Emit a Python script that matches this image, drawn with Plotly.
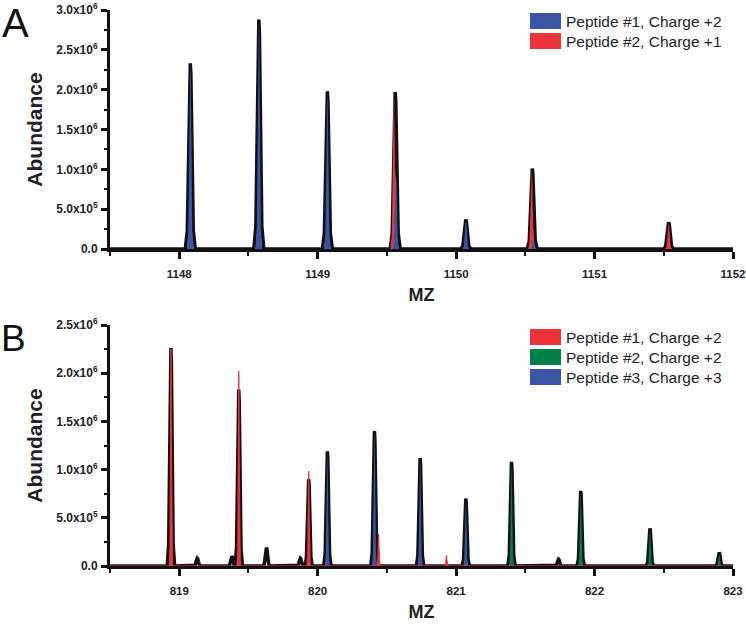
import plotly.graph_objects as go

# ---------------- Panel A data ----------------
A_OBS_MZ = [1148.08, 1148.575, 1149.07, 1149.56, 1150.07, 1150.55, 1151.535]
A_OBS_AB = [2.33e6, 2.88e6, 1.98e6, 1.97e6, 0.37e6, 1.01e6, 0.335e6]
A_P1_MZ = [1148.08, 1148.575, 1149.07, 1149.565, 1150.07, 1150.56]
A_P1_AB = [2.31e6, 2.85e6, 1.95e6, 0.93e6, 0.36e6, 0.12e6]
A_P2_MZ = [1149.55, 1150.545, 1151.535]
A_P2_AB = [1.95e6, 0.99e6, 0.33e6]
A_LEGEND = ["Peptide #1, Charge +2", "Peptide #2, Charge +1"]
A_X_RANGE = [1147.5, 1152]
A_Y_TICKS = [0, 5e5, 1e6, 1.5e6, 2e6, 2.5e6, 3e6]
A_Y_LABELS = ["0.0", "5.0x10<sup>5</sup>", "1.0x10<sup>6</sup>", "1.5x10<sup>6</sup>",
              "2.0x10<sup>6</sup>", "2.5x10<sup>6</sup>", "3.0x10<sup>6</sup>"]

# ---------------- Panel B data ----------------
B_OBS_MZ = [818.94, 819.13, 819.38, 819.43, 819.63, 819.875, 819.935, 820.07, 820.41,
            820.74, 821.07, 821.40, 821.74, 821.90, 822.40, 822.90]
B_OBS_AB = [2.26e6, 0.08e6, 0.10e6, 1.83e6, 0.19e6, 0.08e6, 0.90e6, 1.19e6, 1.40e6,
            1.12e6, 0.70e6, 1.08e6, 0.07e6, 0.78e6, 0.39e6, 0.14e6]
B_P1_MZ = [818.94, 819.43, 819.935, 820.44, 820.93]
B_P1_AB = [2.25e6, 2.02e6, 0.985e6, 0.33e6, 0.11e6]
B_P2_MZ = [821.40, 821.90, 822.40, 822.90]
B_P2_AB = [1.06e6, 0.76e6, 0.37e6, 0.12e6]
B_P3_MZ = [820.07, 820.41, 820.74, 821.07, 821.40]
B_P3_AB = [1.16e6, 1.38e6, 1.10e6, 0.66e6, 0.15e6]
B_LEGEND = ["Peptide #1, Charge +2", "Peptide #2, Charge +2", "Peptide #3, Charge +3"]
B_X_RANGE = [818.5, 823]
B_Y_TICKS = [0, 5e5, 1e6, 1.5e6, 2e6, 2.5e6]
B_Y_LABELS = ["0.0", "5.0x10<sup>5</sup>", "1.0x10<sup>6</sup>", "1.5x10<sup>6</sup>",
              "2.0x10<sup>6</sup>", "2.5x10<sup>6</sup>"]

# ---------------- styles ----------------
BLUE = "#3a55a6"
RED = "#ee3338"
GREEN = "#007f48"
FONT = "Liberation Sans, Arial, sans-serif"
W, H = 746, 626


def px(x):
    return x / W


def py(y):
    return 1 - y / H


# normalised peak outline (offset in half-widths, relative height)
PROFILE_OFF = [-1, -0.6, -0.3, -0.12, 0, 0.12, 0.3, 0.6, 1]
PROFILE_REL = [0, 0.1, 0.6, 0.94, 1, 0.94, 0.6, 0.1, 0]


def peak_path(mz, ab, hw, xr):
    xs, ys = [xr[0]], [0]
    for c, a in sorted(zip(mz, ab)):
        for o, r in zip(PROFILE_OFF, PROFILE_REL):
            xs.append(c + o * hw)
            ys.append(a * r)
    xs.append(xr[1])
    ys.append(0)
    return xs, ys


fig = go.Figure()


def add_obs(mz, ab, hw, xr, xa, ya):
    xs, ys = peak_path(mz, ab, hw, xr)
    fig.add_trace(go.Scatter(x=xs, y=ys, mode="lines", xaxis=xa, yaxis=ya,
                             line=dict(color="#111111", width=3.5), showlegend=False,
                             hoverinfo="skip"))


def add_fill(mz, ab, hw, xr, xa, ya, color, lw=0):
    xs, ys = peak_path(mz, ab, hw, xr)
    fig.add_trace(go.Scatter(x=xs, y=ys, mode="lines", xaxis=xa, yaxis=ya,
                             fill="tozeroy", fillcolor=color,
                             line=dict(color=color, width=lw), showlegend=False,
                             hoverinfo="skip"))


# Panel A
add_obs(A_OBS_MZ, A_OBS_AB, 0.036, A_X_RANGE, "x", "y")
add_fill(A_P2_MZ, A_P2_AB, 0.024, A_X_RANGE, "x", "y", RED)
add_fill(A_P1_MZ, A_P1_AB, 0.024, A_X_RANGE, "x", "y", BLUE)

# Panel B
add_obs(B_OBS_MZ, B_OBS_AB, 0.027, B_X_RANGE, "x2", "y2")
add_fill(B_P3_MZ, B_P3_AB, 0.018, B_X_RANGE, "x2", "y2", BLUE)
add_fill(B_P2_MZ, B_P2_AB, 0.018, B_X_RANGE, "x2", "y2", GREEN)
add_fill(B_P1_MZ, B_P1_AB, 0.011, B_X_RANGE, "x2", "y2", RED, lw=1)

xdom = [px(110), px(733)]
ydomA = [py(249), py(10)]
ydomB = [py(566), py(325)]

tickfont = dict(family=FONT, size=12, color="#222222", weight="bold")
xtickfont = dict(family=FONT, size=11.5, color="#222222", weight="bold")


def xaxis(xr, ya):
    return dict(domain=xdom, range=xr, anchor=ya, showgrid=False, zeroline=False,
                automargin=False, ticklabeloverflow="allow",
                showline=True, linecolor="#111111", linewidth=3,
                ticks="outside", ticklen=7, tickwidth=2.5, tickcolor="#111111",
                tick0=xr[0] + 0.5, dtick=1, tickfont=xtickfont,
                ticklabelstandoff=5,
                minor=dict(ticks="outside", ticklen=4, tickwidth=2, tickcolor="#111111",
                           tick0=xr[0], dtick=0.5),
                title=dict(text="MZ", font=dict(family=FONT, size=18, color="#222222",
                                               weight="bold"), standoff=10))


def yaxis(yr, tv, tt, xa, dom):
    return dict(domain=dom, range=yr, anchor=xa, showgrid=False, zeroline=False,
                automargin=False, ticklabeloverflow="allow",
                showline=True, linecolor="#111111", linewidth=3,
                ticks="outside", ticklen=6, tickwidth=2.5, tickcolor="#111111",
                tickmode="array", tickvals=tv, ticktext=tt, tickfont=tickfont,
                ticklabelstandoff=1,
                minor=dict(ticks="outside", ticklen=3, tickwidth=2, tickcolor="#111111",
                           tick0=0, dtick=250000),
                title=dict(text="Abundance",
                           font=dict(family=FONT, size=21, color="#222222", weight="bold"),
                           standoff=8))


fig.update_layout(
    width=W, height=H, margin=dict(l=0, r=0, t=0, b=0, autoexpand=False),
    paper_bgcolor="white", plot_bgcolor="white",
    xaxis=xaxis(A_X_RANGE, "y"),
    yaxis=yaxis([0, 3e6], A_Y_TICKS, A_Y_LABELS, "x", ydomA),
    xaxis2=xaxis(B_X_RANGE, "y2"),
    yaxis2=yaxis([0, 2.5e6], B_Y_TICKS, B_Y_LABELS, "x2", ydomB),
    showlegend=False,
)

# panel letters
fig.add_annotation(text="A", x=px(15), y=py(23), xref="paper", yref="paper",
                   xanchor="center", yanchor="middle",
                   showarrow=False, font=dict(family=FONT, size=40, color="#111111"))
fig.add_annotation(text="B", x=px(13), y=py(338), xref="paper", yref="paper",
                   xanchor="center", yanchor="middle",
                   showarrow=False, font=dict(family=FONT, size=37, color="#111111"))


# legends (swatch + label)
def add_legend(labels, colors, top_px):
    for i, (lab, col) in enumerate(zip(labels, colors)):
        y0 = top_px + 20 * i
        fig.add_shape(type="rect", xref="paper", yref="paper",
                      x0=px(530), x1=px(561), y0=py(y0 + 16), y1=py(y0),
                      fillcolor=col, line=dict(width=0))
        fig.add_annotation(text=lab, x=px(564), y=py(y0 + 8), xref="paper",
                           yref="paper", xanchor="left", yanchor="middle",
                           showarrow=False,
                           font=dict(family=FONT, size=15.5, color="#222222"))


add_legend(A_LEGEND, [BLUE, RED], 13)
add_legend(B_LEGEND, [RED, GREEN, BLUE], 329)

# remove the page's default body margin so the figure sits at the window's corner
fig.write_html("out.html", config={"displayModeBar": False},
               post_script="document.body.style.margin='0px';")
